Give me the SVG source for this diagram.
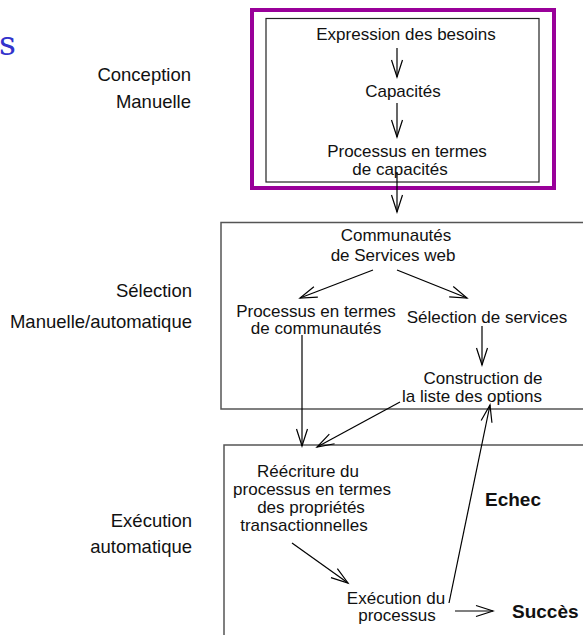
<svg xmlns="http://www.w3.org/2000/svg" width="583" height="635" viewBox="0 0 583 635">
<style>
text{font-family:"Liberation Sans",Arial,sans-serif;font-size:17px;fill:#111}
.c{text-anchor:middle}
.r{text-anchor:end;font-size:18.5px}
.b{font-weight:bold;font-size:19px}
.ln{stroke:#000;stroke-width:1.2;fill:none}
.box{stroke:#555;stroke-width:1.5;fill:none}
</style>
<defs>
<marker id="a" markerUnits="userSpaceOnUse" markerWidth="20" markerHeight="14" refX="0" refY="0" viewBox="-18 -7 20 14" orient="auto" overflow="visible">
<path d="M-17,-5.5 L0,0 L-17,5.5" fill="none" stroke="#000" stroke-width="1.2"/>
</marker>
</defs>
<text x="-1" y="55" style="font-family:'DejaVu Serif',serif;font-size:33px;fill:#3333cc">s</text>
<g id="labels">
<text class="r" x="191" y="81">Conception</text>
<text class="r" x="191" y="108">Manuelle</text>
<text class="r" x="192" y="297">Sélection</text>
<text class="r" x="192" y="328">Manuelle/automatique</text>
<text class="r" x="192" y="527">Exécution</text>
<text class="r" x="192" y="553">automatique</text>
</g>
<g id="conception">
<rect x="252" y="10" width="302" height="178" fill="none" stroke="#990099" stroke-width="4"/>
<rect x="266" y="18.5" width="273" height="163.5" fill="none" stroke="#222" stroke-width="1.2"/>
</g>
<g id="selection"><rect class="box" x="221" y="222.5" width="380" height="186.5"/></g>
<g id="execution"><rect class="box" x="224" y="445" width="380" height="220"/></g>
<g id="n1"><text class="c" x="406" y="40">Expression des besoins</text></g>
<g id="n2"><text class="c" x="403" y="97">Capacités</text></g>
<g id="n3"><text class="c" x="407" y="157">Processus en termes</text><text class="c" x="400" y="175">de capacités</text></g>
<g id="n4"><text class="c" x="396" y="241">Communautés</text><text class="c" x="393" y="261">de Services web</text></g>
<g id="n5"><text class="c" x="316" y="317">Processus en termes</text><text class="c" x="316" y="334">de communautés</text></g>
<g id="n6"><text class="c" x="487" y="323">Sélection de services</text></g>
<g id="n7"><text class="c" x="483" y="384">Construction de</text><text class="c" x="472" y="402">la liste des options</text></g>
<g id="n8"><text class="c" x="308" y="477">Réécriture du</text><text class="c" x="312" y="495">processus en termes</text><text class="c" x="311" y="513">des propriétés</text><text class="c" x="304" y="531">transactionnelles</text></g>
<g id="n9"><text class="c" x="396" y="604">Exécution du</text><text class="c" x="397" y="621">processus</text></g>
<g id="n10"><text class="b" x="485" y="506">Echec</text></g>
<g id="n11"><text class="b" x="512" y="618">Succès</text></g>
<g id="connectors">
<line class="ln" x1="397" y1="48" x2="397" y2="77" marker-end="url(#a)"/>
<line class="ln" x1="397" y1="103" x2="397" y2="137" marker-end="url(#a)"/>
<line class="ln" x1="397" y1="172" x2="397" y2="212" marker-end="url(#a)"/>
<line class="ln" x1="373" y1="270" x2="300" y2="298" marker-end="url(#a)"/>
<line class="ln" x1="397" y1="270" x2="467" y2="298" marker-end="url(#a)"/>
<line class="ln" x1="482" y1="326" x2="482" y2="365" marker-end="url(#a)"/>
<line class="ln" x1="302" y1="335" x2="302" y2="446" marker-end="url(#a)"/>
<line class="ln" x1="400" y1="402" x2="317" y2="447" marker-end="url(#a)"/>
<line class="ln" x1="292" y1="543" x2="348" y2="583" marker-end="url(#a)"/>
<line class="ln" x1="449" y1="603" x2="490" y2="405" marker-end="url(#a)"/>
<line class="ln" x1="455" y1="611" x2="493" y2="611" marker-end="url(#a)"/>
</g>
</svg>
